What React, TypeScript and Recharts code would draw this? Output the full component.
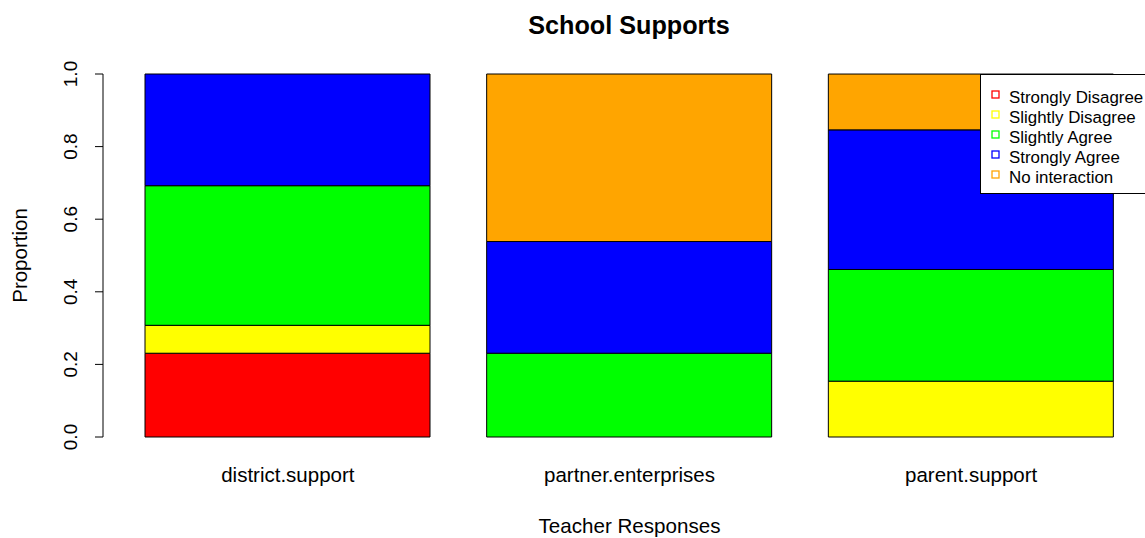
import { BarChart, Bar, XAxis, YAxis, Legend } from 'recharts';

// proportions of teacher responses (13 teachers per item)
const categories = ['district.support', 'partner.enterprises', 'parent.support'];
const stronglyDisagree = [0.2308, 0, 0];
const slightlyDisagree = [0.0769, 0, 0.1538];
const slightlyAgree = [0.3846, 0.2308, 0.3077];
const stronglyAgree = [0.3077, 0.3077, 0.3846];
const noInteraction = [0, 0.4615, 0.1538];
const yTicks = [0, 0.2, 0.4, 0.6, 0.8, 1.0];

const series = [
  { key: 'sd', name: 'Strongly Disagree', color: '#FF0000', values: stronglyDisagree },
  { key: 'sld', name: 'Slightly Disagree', color: '#FFFF00', values: slightlyDisagree },
  { key: 'sla', name: 'Slightly Agree', color: '#00FF00', values: slightlyAgree },
  { key: 'sa', name: 'Strongly Agree', color: '#0000FF', values: stronglyAgree },
  { key: 'ni', name: 'No interaction', color: '#FFA500', values: noInteraction },
];

const data = categories.map((name, i) => {
  const row: Record<string, string | number> = { name };
  series.forEach((s) => {
    row[s.key] = s.values[i];
  });
  return row;
});

const FONT = '"Liberation Sans", Arial, sans-serif';

const YTick = (props: any) => {
  const { x, y, payload } = props;
  const bx = x - 18;
  return (
    <text
      x={bx}
      y={y}
      transform={`rotate(-90, ${bx}, ${y})`}
      textAnchor="middle"
      fontSize={19}
      fontFamily={FONT}
      fill="#000"
    >
      {payload.value.toFixed(1)}
    </text>
  );
};

const XTick = (props: any) => {
  const { x, y, payload } = props;
  return (
    <text x={x} y={y + 45} textAnchor="middle" fontSize={20.5} fontFamily={FONT} fill="#000">
      {payload.value}
    </text>
  );
};

const LegendBox = () => (
  <svg width={165} height={120} style={{ display: 'block' }}>
    <rect x={0.5} y={0.5} width={175} height={119} fill="#fff" stroke="#000" />
    {series.map((s, i) => (
      <g key={s.key}>
        <rect x={12} y={17 + 20 * i} width={7} height={7} fill="none" stroke={s.color} strokeWidth={1.3} />
        <text x={29} y={29 + 20 * i} fontSize={16.9} fontFamily={FONT} fill="#000">
          {s.name}
        </text>
      </g>
    ))}
  </svg>
);

export default function App() {
  return (
    <div
      style={{
        position: 'fixed',
        left: 0,
        top: 0,
        width: 1145,
        height: 538,
        overflow: 'hidden',
        background: '#fff',
        fontFamily: FONT,
      }}
    >
      <div
        style={{
          position: 'absolute',
          top: 13,
          left: 429,
          width: 400,
          textAlign: 'center',
          fontSize: 25.2,
          lineHeight: '25px',
          fontWeight: 'bold',
          color: '#000',
          zIndex: 2,
        }}
      >
        School Supports
      </div>
      <BarChart width={1145} height={538} data={data} margin={{ top: 74, right: 3, left: 0, bottom: 0 }}>
        <XAxis
          dataKey="name"
          height={101}
          padding={{ left: 14, right: 0 }}
          axisLine={false}
          tickLine={false}
          tickSize={0}
          tickMargin={0}
          tick={<XTick />}
          label={{
            content: (p: any) => {
              const vb = p.viewBox;
              return (
                <text
                  x={vb.x + (vb.width + 14) / 2}
                  y={vb.y + 96}
                  textAnchor="middle"
                  fontSize={20.6}
                  fontFamily={FONT}
                  fill="#000"
                >
                  Teacher Responses
                </text>
              );
            },
          }}
        />
        <YAxis
          width={103}
          domain={[0, 1]}
          ticks={yTicks}
          interval={0}
          stroke="#000"
          tickSize={8}
          tickMargin={0}
          tick={<YTick />}
          label={{
            content: (p: any) => {
              const vb = p.viewBox;
              const cx = vb.x + 27;
              const cy = vb.y + vb.height / 2;
              return (
                <text
                  x={cx}
                  y={cy}
                  transform={`rotate(-90, ${cx}, ${cy})`}
                  textAnchor="middle"
                  fontSize={20.5}
                  fontFamily={FONT}
                  fill="#000"
                >
                  Proportion
                </text>
              );
            },
          }}
        />
        <Legend
          verticalAlign="middle"
          align="center"
          content={() => <LegendBox />}
          wrapperStyle={{ left: 980, top: 74, width: 165, height: 120 }}
        />
        {series.map((s) => (
          <Bar
            key={s.key}
            dataKey={s.key}
            name={s.name}
            stackId="a"
            fill={s.color}
            stroke="#000"
            strokeWidth={1}
            barSize={285}
            isAnimationActive={false}
          />
        ))}
      </BarChart>
    </div>
  );
}
